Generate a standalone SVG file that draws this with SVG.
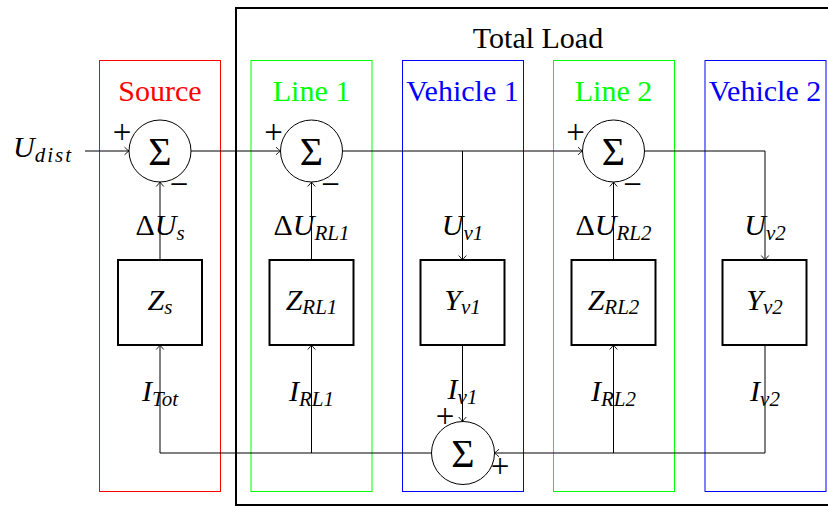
<svg xmlns="http://www.w3.org/2000/svg" width="828" height="506" viewBox="0 0 828 506">
<defs>
<style>
.hdr{font-family:"Liberation Serif","DejaVu Serif",serif;font-size:30px;text-anchor:middle}
.m{font-family:"Liberation Serif","DejaVu Serif",serif;font-style:italic;font-size:30px;text-anchor:middle}
.up{font-style:normal}
.sub{font-size:21px}
.sig{font-family:"Liberation Serif","DejaVu Serif",serif;font-size:40px;text-anchor:middle}
.sg{font-family:"Liberation Serif","DejaVu Serif",serif;font-size:33px;text-anchor:middle}
.blk{fill:#fff;stroke:#000;stroke-width:2}
.sum{fill:#fff;stroke:#000;stroke-width:1}
.grp{fill:none;stroke-width:1}
.c{fill:none;stroke:#000;stroke-width:1}
</style>
<marker id="ar" markerUnits="userSpaceOnUse" markerWidth="12" markerHeight="12" viewBox="-6 -6 12 12" refX="0" refY="0" orient="auto">
<path d="M-4.5,-3.8 Q-1.5,-1 0,0 Q-1.5,1 -4.5,3.8" fill="none" stroke="#000" stroke-width="0.9"/>
</marker>
</defs>
<rect width="828" height="506" fill="#fff"/>

<g id="total-load">
<rect x="236" y="8" width="610" height="497" fill="none" stroke="#000" stroke-width="2"/>
<text class="hdr" x="538" y="48">Total Load</text>
</g>

<g id="source-box"><rect class="grp" x="99.5" y="60.5" width="121" height="431" stroke="#ff0000"/><text class="hdr" x="160" y="101" fill="#ff0000">Source</text></g>
<g id="line1-box"><rect class="grp" x="251" y="60.5" width="121" height="431" stroke="#00ff00"/><text class="hdr" x="311.5" y="101" fill="#00ff00">Line 1</text></g>
<g id="vehicle1-box"><rect class="grp" x="402.5" y="60.5" width="121" height="431" stroke="#0000ff"/><text class="hdr" x="462.5" y="101" fill="#0000ff">Vehicle 1</text></g>
<g id="line2-box"><rect class="grp" x="553.5" y="60.5" width="121" height="431" stroke="#00ff00"/><text class="hdr" x="613.5" y="101" fill="#00ff00">Line 2</text></g>
<g id="vehicle2-box"><rect class="grp" x="705" y="60.5" width="121" height="431" stroke="#0000ff"/><text class="hdr" x="765" y="101" fill="#0000ff">Vehicle 2</text></g>

<g id="connectors">
<path class="c" d="M85,151 H129" marker-end="url(#ar)"/>
<path class="c" d="M191,151 H280.5" marker-end="url(#ar)"/>
<path class="c" d="M342.5,151 H582.5" marker-end="url(#ar)"/>
<path class="c" d="M462.5,151 V260" marker-end="url(#ar)"/>
<path class="c" d="M644.5,151 H765 V260" marker-end="url(#ar)"/>
<path class="c" d="M160,260 V182" marker-end="url(#ar)"/>
<path class="c" d="M311.5,260 V182" marker-end="url(#ar)"/>
<path class="c" d="M613.5,260 V182" marker-end="url(#ar)"/>
<path class="c" d="M431.5,453 H160 V345" marker-end="url(#ar)"/>
<path class="c" d="M311.5,453 V345" marker-end="url(#ar)"/>
<path class="c" d="M462.5,345 V421.5" marker-end="url(#ar)"/>
<path class="c" d="M765,345 V453 H494.5" marker-end="url(#ar)"/>
<path class="c" d="M613.5,453 V345" marker-end="url(#ar)"/>
</g>

<g id="input-label"><text class="m" x="13" y="157" style="text-anchor:start">U<tspan class="sub" dy="5" letter-spacing="2">dist</tspan></text></g>

<g id="sum-source">
<circle class="sum" cx="160" cy="151" r="31"/>
<text class="sig" x="160" y="165">Σ</text>
<text class="sg" x="122" y="143">+</text>
<text class="sg" x="179" y="195">−</text>
</g>
<g id="sum-line1">
<circle class="sum" cx="311.5" cy="151" r="31"/>
<text class="sig" x="311.5" y="165">Σ</text>
<text class="sg" x="273.5" y="143">+</text>
<text class="sg" x="330.5" y="195">−</text>
</g>
<g id="sum-line2">
<circle class="sum" cx="613.5" cy="151" r="31"/>
<text class="sig" x="613.5" y="165">Σ</text>
<text class="sg" x="575.5" y="143">+</text>
<text class="sg" x="632.5" y="195">−</text>
</g>
<g id="sum-current">
<circle class="sum" cx="463" cy="453" r="31.5"/>
<text class="sig" x="463" y="467">Σ</text>
<text class="sg" x="445" y="427">+</text>
<text class="sg" x="500" y="477">+</text>
</g>

<g id="label-dUs"><text class="m" x="160" y="235"><tspan class="up">Δ</tspan>U<tspan class="sub" dy="5">s</tspan></text></g>
<g id="label-dURL1"><text class="m" x="311.5" y="235"><tspan class="up">Δ</tspan>U<tspan class="sub" dy="5">RL1</tspan></text></g>
<g id="label-Uv1"><text class="m" x="462.5" y="235">U<tspan class="sub" dy="5">v1</tspan></text></g>
<g id="label-dURL2"><text class="m" x="613.5" y="235"><tspan class="up">Δ</tspan>U<tspan class="sub" dy="5">RL2</tspan></text></g>
<g id="label-Uv2"><text class="m" x="765" y="235">U<tspan class="sub" dy="5">v2</tspan></text></g>

<g id="block-Zs"><rect class="blk" x="118" y="260" width="84" height="85"/><text class="m" x="160" y="310">Z<tspan class="sub" dy="4">s</tspan></text></g>
<g id="block-ZRL1"><rect class="blk" x="269.5" y="260" width="84" height="85"/><text class="m" x="311.5" y="310">Z<tspan class="sub" dy="4">RL1</tspan></text></g>
<g id="block-Yv1"><rect class="blk" x="420.5" y="260" width="84" height="85"/><text class="m" x="462.5" y="310">Y<tspan class="sub" dy="4">v1</tspan></text></g>
<g id="block-ZRL2"><rect class="blk" x="571.5" y="260" width="84" height="85"/><text class="m" x="613.5" y="310">Z<tspan class="sub" dy="4">RL2</tspan></text></g>
<g id="block-Yv2"><rect class="blk" x="722.5" y="260" width="84" height="85"/><text class="m" x="764.5" y="310">Y<tspan class="sub" dy="4">v2</tspan></text></g>

<g id="label-ITot"><text class="m" x="160" y="401">I<tspan class="sub" dy="5">Tot</tspan></text></g>
<g id="label-IRL1"><text class="m" x="311.5" y="401">I<tspan class="sub" dy="5">RL1</tspan></text></g>
<g id="label-Iv1"><text class="m" x="462.5" y="399">I<tspan class="sub" dy="5">v1</tspan></text></g>
<g id="label-IRL2"><text class="m" x="613.5" y="401">I<tspan class="sub" dy="5">RL2</tspan></text></g>
<g id="label-Iv2"><text class="m" x="765" y="401">I<tspan class="sub" dy="5">v2</tspan></text></g>
</svg>
